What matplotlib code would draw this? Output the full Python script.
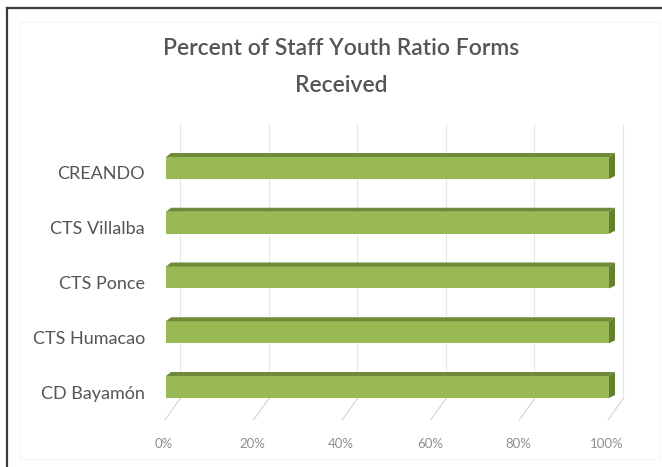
import matplotlib
matplotlib.use("Agg")
import matplotlib.pyplot as plt
from matplotlib.patches import Polygon, Rectangle
from matplotlib.lines import Line2D

# ---- data ----
categories = ["CD Bayamón", "CTS Humacao", "CTS Ponce", "CTS Villalba", "CREANDO"]
values = [100, 100, 100, 100, 100]
xticks = [0, 20, 40, 60, 80, 100]
xticklabels = ["0%", "20%", "40%", "60%", "80%", "100%"]
title_lines = ["Percent of Staff Youth Ratio Forms", "Received"]

W, H = 662, 467
fig = plt.figure(figsize=(W / 100, H / 100), dpi=100)
plt.rcParams['font.family'] = ['Lato', 'DejaVu Sans']

# axes geometry in pixels
ax_l, ax_r = 166, 609
ax_top, ax_bot = 135.15, 419.85
ax = fig.add_axes([ax_l / W, 1 - ax_bot / H, (ax_r - ax_l) / W, (ax_bot - ax_top) / H])
ylim = (-0.6, 4.6)
ax.set_xlim(0, 100)
ax.set_ylim(*ylim)
ax.axis("off")

ppx = (ax_r - ax_l) / 100.0
ppy = (ax_bot - ax_top) / (ylim[1] - ylim[0])

def dx(px):
    return px / ppx

def dy(px):
    return px / ppy

# back wall gridlines and floor lines
back_y = -0.6 + dy(21)
for v in xticks:
    ax.add_line(Line2D([v + dx(14), v + dx(14)], [back_y, 4.6 + dy(11)],
                       color="#e6e6e6", lw=0.8, zorder=1, clip_on=False))
    ax.add_line(Line2D([v - dx(1), v + dx(14)], [-0.6, back_y],
                       color="#d4d4d4", lw=0.8, zorder=1, clip_on=False))

# bars with 3-D look
bar_h = dy(22)
top_d = dy(4)
side_d = dx(6)
front_col = "#98b954"
top_col = "#6f8b38"
side_col = "#62802f"
for i, (c, v) in enumerate(zip(categories, values)):
    y0 = i - bar_h / 2
    y1 = i + bar_h / 2
    ax.add_patch(Rectangle((0, y0), v, bar_h, facecolor=front_col,
                           edgecolor="none", zorder=3, clip_on=False))
    ax.add_patch(Polygon([(0, y1), (v, y1), (v + side_d, y1 + top_d),
                          (dx(5), y1 + top_d)], closed=True,
                         facecolor=top_col, edgecolor="none", zorder=4, clip_on=False))
    ax.add_patch(Polygon([(v, y0), (v, y1), (v + side_d, y1 + top_d),
                          (v + side_d, y0 + dy(3))], closed=True,
                         facecolor=side_col, edgecolor="none", zorder=4, clip_on=False))

# category labels
for i, c in enumerate(categories):
    ax.text(-dx(21), i - dy(6.5), c, ha="right", va="center",
            fontsize=13, color="#555555", clip_on=False)

# x tick labels
for v, lab in zip(xticks, xticklabels):
    ax.text(v - dx(2), -0.6 - dy(24), lab, ha="center", va="center",
            fontsize=9.5, color="#8f8f8f", clip_on=False)

# title
fig.text(341 / W, 1 - 55 / H, title_lines[0], ha="center", va="baseline",
         fontsize=16.5, color="#555555", fontweight="semibold")
fig.text(341 / W, 1 - 92 / H, title_lines[1], ha="center", va="baseline",
         fontsize=16.5, color="#555555", fontweight="semibold")

# frame
fig.add_artist(Line2D([6.5 / W, 6.5 / W], [0, 1 - 8 / H], transform=fig.transFigure,
                      color="#3a3a3a", lw=1.6))
fig.add_artist(Line2D([6.5 / W, 1], [1 - 8 / H, 1 - 8 / H], transform=fig.transFigure,
                      color="#3a3a3a", lw=1.6))
fig.add_artist(Rectangle((20 / W, 8 / H), 640 / W, 1 - 30 / H, transform=fig.transFigure,
                         facecolor="none", edgecolor="#f4f4f4", lw=0.8))

fig.savefig("out.png", dpi=100, facecolor="white")
